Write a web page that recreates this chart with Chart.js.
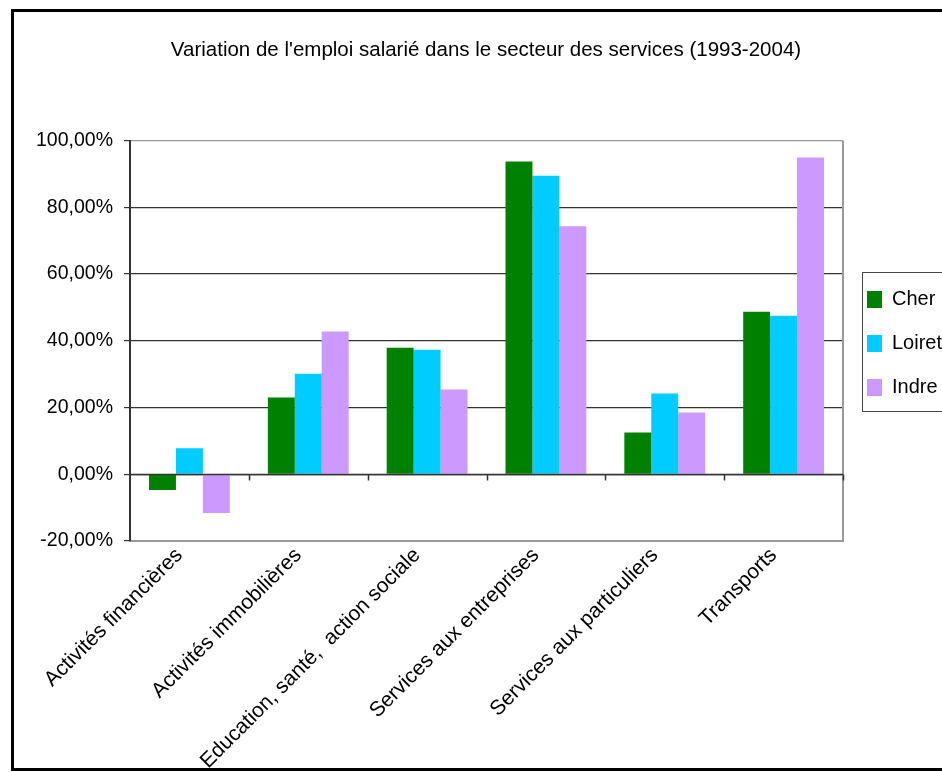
<!DOCTYPE html>
<html>
<head>
<meta charset="utf-8">
<script src="https://cdn.jsdelivr.net/npm/chart.js@4.4.1/dist/chart.umd.min.js"></script>
<style>
    html, body { margin: 0; padding: 0; background: #fff; }
    #wrap { width: 942px; height: 772px; }
</style>
</head>
<body>
<div id="wrap"><canvas id="chart" width="942" height="772"></canvas></div>
<script>
// data, in percent
var categories = [
    'Activités financières',
    'Activités immobilières',
    'Education, santé,  action sociale',
    'Services aux entreprises',
    'Services aux particuliers',
    'Transports'
];
var cher = [-4.7, 23.0, 37.9, 93.7, 12.5, 48.7];
var loiret = [7.8, 30.1, 37.3, 89.5, 24.2, 47.5];
var indre = [-11.6, 42.8, 25.4, 74.3, 18.5, 94.9];
var yTicks = [-20, 0, 20, 40, 60, 80, 100];

var FONT = "'Liberation Sans', Arial, sans-serif";

function pct(v) {
    return v.toFixed(2).replace('.', ',') + '%';
}

// frame, plot border, zero axis with its ticks, legend box
var decorations = {
    id: 'decorations',
    afterLayout: function (chart) {
        // legend sits a bit above the middle of the chart, as in Excel
        chart.legend.bottom -= 85;
        chart.legend.height -= 85;
    },
    beforeDraw: function (chart) {
        var ctx = chart.ctx;
        ctx.save();
        ctx.fillStyle = '#fff';
        ctx.fillRect(0, 0, chart.width, chart.height);
        ctx.strokeStyle = '#000';
        ctx.lineWidth = 3;
        ctx.strokeRect(12.5, 10.5, 940, 759);
        ctx.restore();
    },
    afterDatasetsDraw: function (chart) {
        var ctx = chart.ctx;
        var area = chart.chartArea;
        var xs = chart.scales.x;
        var y0 = Math.round(chart.scales.y.getPixelForValue(0)) + 0.5;
        ctx.save();
        ctx.strokeStyle = '#999';
        ctx.lineWidth = 2;
        ctx.beginPath();
        ctx.moveTo(area.right, area.top);
        ctx.lineTo(area.right, area.bottom);
        ctx.stroke();
        ctx.strokeStyle = '#333';
        ctx.lineWidth = 1.5;
        ctx.beginPath();
        ctx.moveTo(area.left, y0);
        ctx.lineTo(area.right, y0);
        for (var i = 1; i <= categories.length; i++) {
            var bx = i < categories.length
                ? (xs.getPixelForValue(i - 1) + xs.getPixelForValue(i)) / 2
                : area.right;
            bx = Math.round(bx) + 0.5;
            ctx.moveTo(bx, y0);
            ctx.lineTo(bx, y0 + 6);
        }
        ctx.stroke();
        ctx.restore();
    },
    afterDraw: function (chart) {
        var hb = chart.legend.legendHitBoxes;
        if (!hb || !hb.length) return;
        var first = hb[0], last = hb[hb.length - 1];
        var ctx = chart.ctx;
        ctx.save();
        ctx.strokeStyle = '#444';
        ctx.lineWidth = 1;
        var top = Math.round(first.top) - 17.5;
        var bottom = Math.round(last.top + last.height) + 13.5;
        ctx.strokeRect(Math.round(first.left) - 4.5, top, 200, bottom - top);
        ctx.restore();
    }
};

var ctx = document.getElementById('chart').getContext('2d');

var chart = new Chart(ctx, {
    type: 'bar',
    data: {
        labels: categories,
        datasets: [{
            label: 'Cher',
            data: cher,
            backgroundColor: '#008000',
            borderWidth: 0
        }, {
            label: 'Loiret',
            data: loiret,
            backgroundColor: '#00CCFF',
            borderWidth: 0
        }, {
            label: 'Indre',
            data: indre,
            backgroundColor: '#CC99FF',
            borderWidth: 0
        }]
    },
    options: {
        responsive: false,
        animation: false,
        devicePixelRatio: 1,
        datasets: {
            bar: {
                categoryPercentage: 0.68,
                barPercentage: 1.0
            }
        },
        layout: {
            padding: { left: 30, right: 0, top: 0, bottom: 0 }
        },
        scales: {
            x: {
                grid: { display: false, drawTicks: false },
                border: { display: true, color: '#999', width: 2 },
                ticks: {
                    autoSkip: false,
                    minRotation: 45,
                    maxRotation: 45,
                    padding: 2,
                    labelOffset: -10,
                    color: '#000',
                    font: { family: FONT, size: 21 }
                },
                afterFit: function (scale) {
                    scale.height = 231;
                }
            },
            y: {
                min: -20,
                max: 100,
                afterBuildTicks: function (scale) {
                    scale.ticks = yTicks.map(function (v) { return { value: v }; });
                },
                grid: {
                    color: function (c) {
                        var v = c.tick && c.tick.value;
                        return (v === 100 || v === -20) ? '#999' : '#333';
                    },
                    lineWidth: 1.2,
                    tickLength: 6,
                    tickColor: '#333'
                },
                border: { display: true, color: '#333', width: 2 },
                ticks: {
                    padding: 11,
                    color: '#000',
                    font: { family: FONT, size: 19.5 },
                    callback: function (v) { return pct(v); }
                },
                afterFit: function (scale) {
                    scale.width = 100;
                }
            }
        },
        plugins: {
            title: {
                display: true,
                text: "Variation de l'emploi salarié dans le secteur des services (1993-2004)",
                color: '#000',
                font: { family: FONT, size: 20.5, weight: 'normal' },
                padding: { top: 38, bottom: 78 }
            },
            legend: {
                position: 'right',
                maxWidth: 99,
                labels: {
                    boxWidth: 15,
                    boxHeight: 17,
                    padding: 24,
                    color: '#000',
                    font: { family: FONT, size: 20 }
                }
            },
            tooltip: { enabled: false }
        }
    },
    plugins: [decorations]
});
</script>
</body>
</html>
